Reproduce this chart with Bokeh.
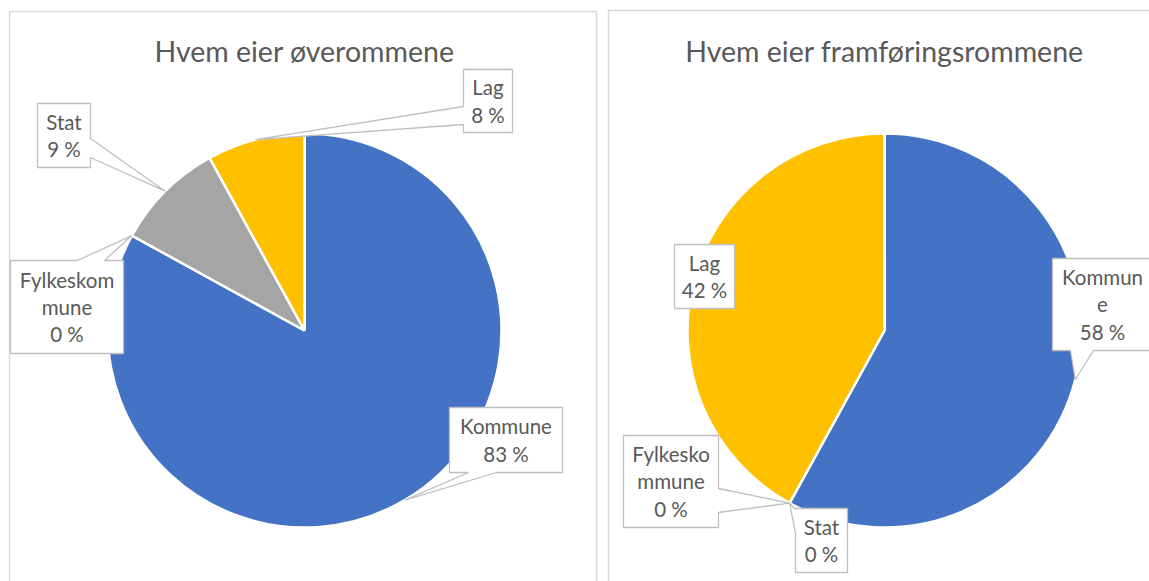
import math
from bokeh.plotting import figure
from bokeh.layouts import row
from bokeh.models import Range1d, ColumnDataSource
from bokeh.core.properties import value
from bokeh.embed import file_html
from bokeh.resources import INLINE

# ---------------- data ----------------
categories = ["Kommune", "Fylkeskommune", "Stat", "Lag"]
colors = ["#4472C4", "#ED7D31", "#A5A5A5", "#FFC000"]
title_over = "Hvem eier øverommene"
title_fram = "Hvem eier framføringsrommene"
values_over = [83, 0, 9, 8]
values_fram = [58, 0, 0, 42]

# ---------------- style / layout (screen px) ----------------
FONT = "Lato"
TXT = "#595959"
EDGE = "#BFBFBF"
PANEL = "#D9D9D9"
TOP, BOTTOM = 0, 581
R = 197

# label layout: box (x0, y0, x1, y1), wrap width, pointer (side, a, b)
layout_over = dict(
    fig=(0, 602), center=(304, 330), border=(9, 11, 596), title_y=50, title_size="28.5px",
    labels=[
        ((449, 407, 562, 472), 0, ("bottom", 468, 496)),
        ((10, 260, 123, 353), 9, ("top", 77, 104)),
        ((37, 103, 90, 167), 0, ("right", 138, 157)),
        ((463, 69, 512, 132), 0, ("left", 106, 124)),
    ],
)
layout_fram = dict(
    fig=(602, 1149), center=(884, 330), border=(608, 10, None), title_y=50, title_size="28.5px",
    labels=[
        ((1052, 258, 1160, 350), 6, ("bottom", 1070, 1093)),
        ((623, 435, 718, 527), 8, ("right", 488, 512)),
        ((795, 508, 847, 572), 0, ("left", 509, 533)),
        ((674, 244, 734, 308), 0, None),
    ],
)


def wrap(s, n):
    if n <= 0:
        return s
    return "\n".join(s[i:i + n] for i in range(0, len(s), n))


def callout(box, ptr, tip):
    x0, y0, x1, y1 = box
    pts = [(x0, y0)]
    side = ptr[0] if ptr else None
    if side == "top":
        pts += [(ptr[1], y0), tip, (ptr[2], y0)]
    pts.append((x1, y0))
    if side == "right":
        pts += [(x1, ptr[1]), tip, (x1, ptr[2])]
    pts.append((x1, y1))
    if side == "bottom":
        pts += [(ptr[2], y1), tip, (ptr[1], y1)]
    pts.append((x0, y1))
    if side == "left":
        pts += [(x0, ptr[2]), tip, (x0, ptr[1])]
    return pts


def make_panel(title, vals, lay):
    fx0, fx1 = lay["fig"]
    cx, cy = lay["center"]
    w = fx1 - fx0
    h = BOTTOM - TOP
    p = figure(width=w, height=h, output_backend="svg", toolbar_location=None,
               x_axis_type=None, y_axis_type=None, min_border=0,
               x_range=Range1d(fx0 - cx, fx1 - cx), y_range=Range1d(cy - BOTTOM, cy - TOP))
    p.grid.visible = False
    p.outline_line_color = None
    p.background_fill_color = "white"
    p.border_fill_color = "white"

    def d(sx, sy):
        return sx - cx, cy - sy

    # panel border
    bx0, by0, bx1 = lay["border"]
    xs = [bx0, bx0]
    ys = [BOTTOM + 20, by0]
    if bx1 is not None:
        xs += [bx1, bx1]
        ys += [by0, BOTTOM + 20]
    else:
        xs += [fx1 + 20]
        ys += [by0]
    pts = [d(a, b) for a, b in zip(xs, ys)]
    p.line([q[0] for q in pts], [q[1] for q in pts], line_color=PANEL, line_width=1.5)

    # wedges
    total = float(sum(vals))
    cum = 0.0
    starts, ends, cols, mids = [], [], [], []
    for v, c in zip(vals, colors):
        f0 = cum / total
        cum += v
        f1 = cum / total
        mids.append((f0 + f1) / 2)
        if v > 0:
            starts.append(math.pi / 2 - 2 * math.pi * f1)
            ends.append(math.pi / 2 - 2 * math.pi * f0)
            cols.append(c)
    src = ColumnDataSource(dict(x=[0] * len(starts), y=[0] * len(starts),
                                s=starts, e=ends, c=cols))
    p.wedge(x="x", y="y", radius=R, start_angle="s", end_angle="e", direction="anticlock",
            fill_color="c", line_color="white", line_width=2.5, source=src)

    # title
    tx, ty = d(cx, lay["title_y"])
    p.text(x=[tx], y=[ty], text=[title], text_font=value(FONT), text_font_size=lay["title_size"],
           text_color=TXT, text_align="center", text_baseline="middle")

    # labels
    for cat, v, m, (box, wr, ptr) in zip(categories, vals, mids, lay["labels"]):
        ang = 2 * math.pi * m
        tip_d = (R * math.sin(ang), R * math.cos(ang))
        tip_s = (tip_d[0] + cx, cy - tip_d[1])
        poly = callout(box, ptr, tip_s)
        dp = [d(a, b) for a, b in poly]
        p.patch([q[0] for q in dp], [q[1] for q in dp], fill_color="white",
                line_color=EDGE, line_width=1.3)
        x0, y0, x1, y1 = box
        cxx = (x0 + x1) / 2 if x1 < fx1 else x0 + 50
        lx, ly = d(cxx, (y0 + y1) / 2)
        txt = wrap(cat, wr) + "\n" + f"{round(v)} %"
        p.text(x=[lx], y=[ly], text=[txt], text_font=value(FONT), text_font_size="20.5px",
               text_color=TXT, text_align="center", text_baseline="middle",
               text_line_height=1.14)
    return p


p1 = make_panel(title_over, values_over, layout_over)
p2 = make_panel(title_fram, values_fram, layout_fram)
layout = row(p1, p2, spacing=0)
open("out.html", "w").write(file_html(layout, INLINE))
